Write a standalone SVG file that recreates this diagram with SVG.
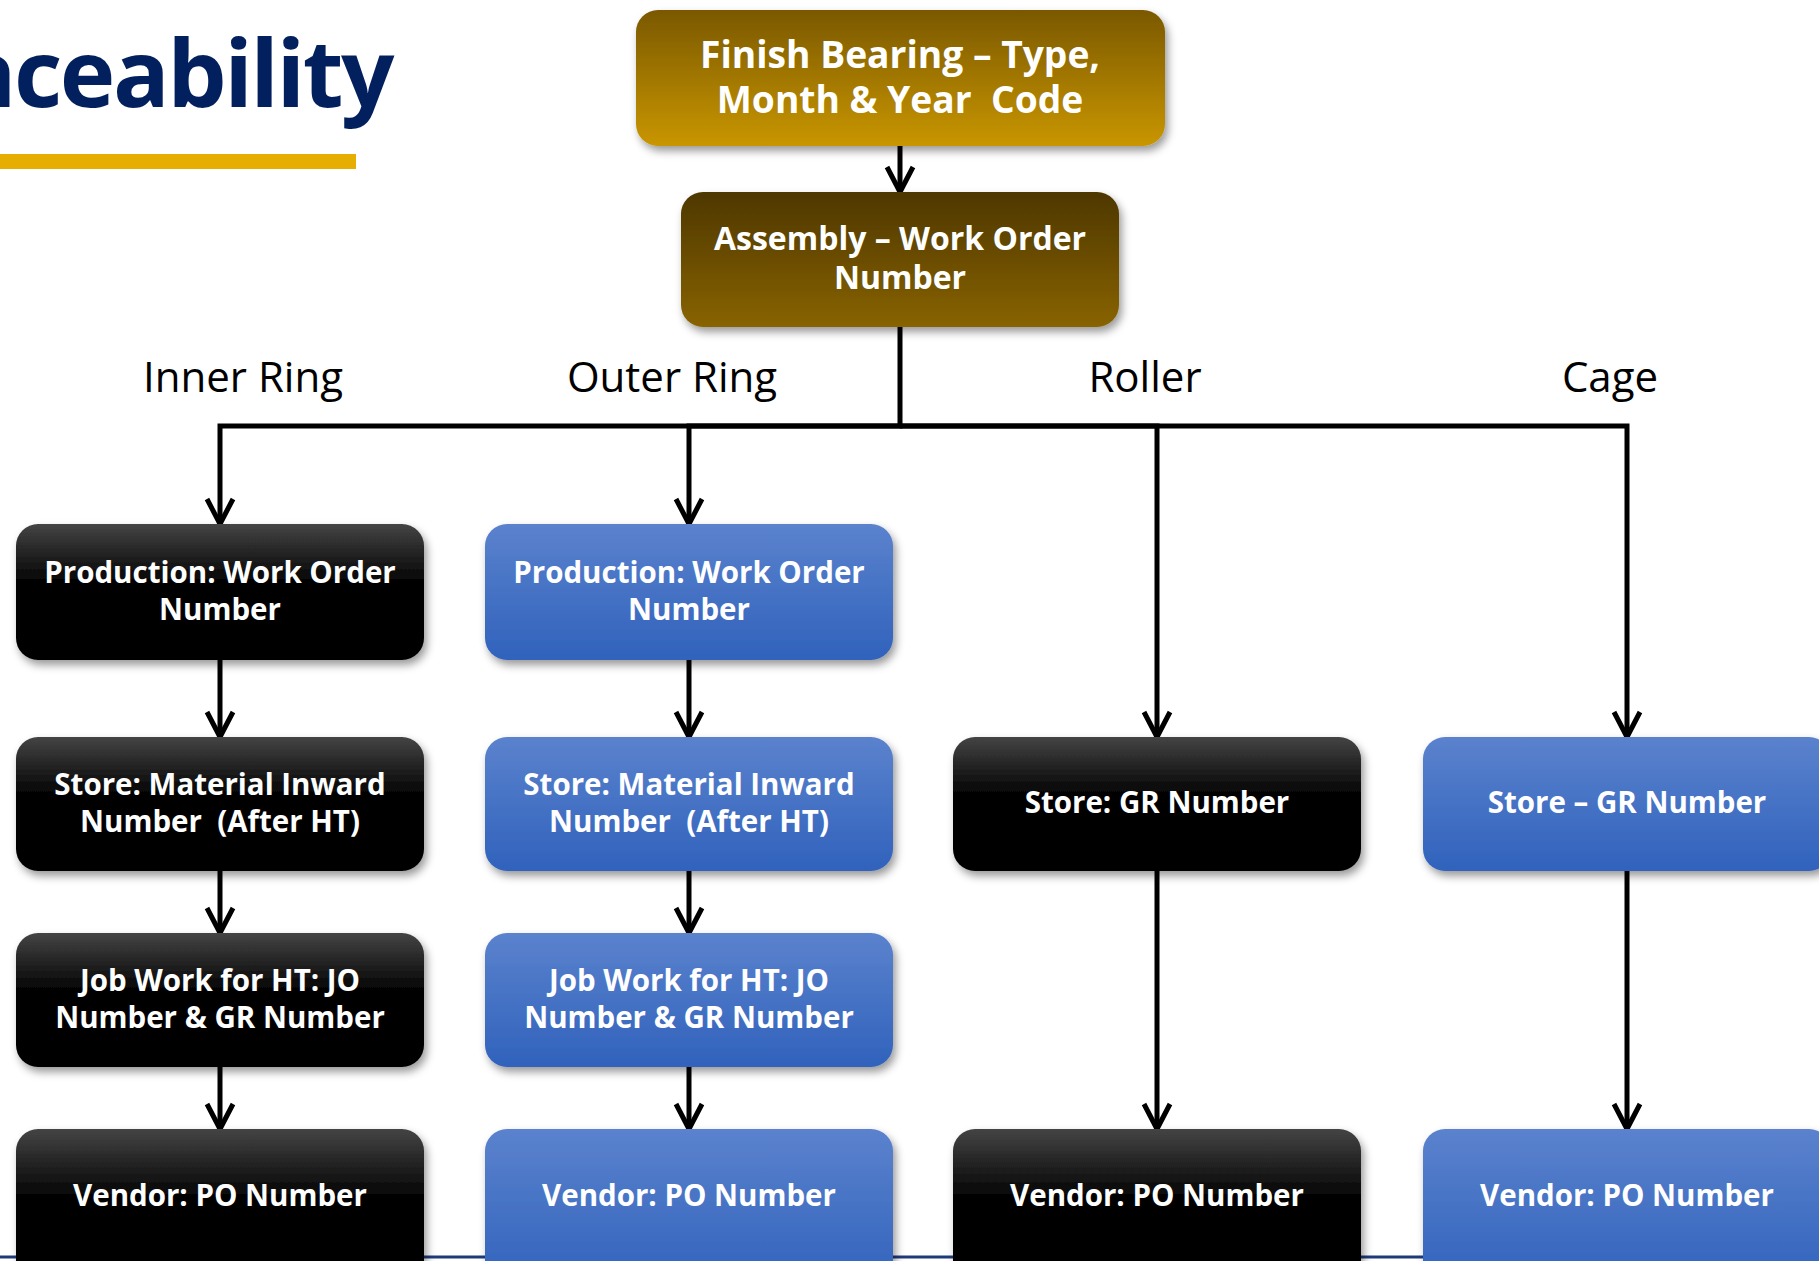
<svg xmlns="http://www.w3.org/2000/svg" width="1819" height="1261" viewBox="0 0 1819 1261">
<style>
.bx{font-family:"Open Sans","Noto Sans","Liberation Sans",sans-serif;font-weight:700;fill:#fff;text-anchor:middle;white-space:pre}
.f27{font-size:29.5px}
.lbl{font-family:"Open Sans","Noto Sans","Liberation Sans",sans-serif;font-size:42px;fill:#000;text-anchor:middle}
.cn{fill:none;stroke:#000;stroke-width:5;stroke-linejoin:miter}
</style>
<defs>
<linearGradient id="gBlk" x1="0" y1="0" x2="0" y2="1">
<stop offset="0" stop-color="#444"/><stop offset="0.45" stop-color="#000"/><stop offset="1" stop-color="#000"/>
</linearGradient>
<linearGradient id="gBlu" x1="0" y1="0" x2="0" y2="1">
<stop offset="0" stop-color="#5B82CD"/><stop offset="1" stop-color="#3062BC"/>
</linearGradient>
<linearGradient id="gGold" x1="0" y1="0" x2="0" y2="1">
<stop offset="0" stop-color="#7A5800"/><stop offset="1" stop-color="#C99600"/>
</linearGradient>
<linearGradient id="gBrn" x1="0" y1="0" x2="0" y2="1">
<stop offset="0" stop-color="#4E3700"/><stop offset="1" stop-color="#886300"/>
</linearGradient>
<filter id="sh" x="-10%" y="-10%" width="125%" height="130%">
<feDropShadow dx="3" dy="5" stdDeviation="4" flood-color="#000" flood-opacity="0.4"/>
</filter>
<marker id="arr" viewBox="-5 -5 40 40" refX="27" refY="15" markerWidth="40" markerHeight="40" markerUnits="userSpaceOnUse" orient="auto">
<path d="M2,2 L27,15 L2,28" fill="none" stroke="#000" stroke-width="5"/>
</marker>
</defs>
<rect width="1819" height="1261" fill="#fff"/>
<g id="title">
<text x="392" y="107" text-anchor="end" font-family="'Open Sans','Noto Sans','Liberation Sans',sans-serif" font-weight="700" font-size="94" letter-spacing="-2.5" fill="#03205E">Traceability</text>
<rect x="0" y="154" width="356" height="15" fill="#E5AE00"/>
</g>
<line x1="0" y1="1257" x2="1819" y2="1257" stroke="#1F3A7A" stroke-width="3"/>
<g id="labels">
<text class="lbl" x="243" y="392">Inner Ring</text>
<text class="lbl" x="672" y="392">Outer Ring</text>
<text class="lbl" x="1145" y="392">Roller</text>
<text class="lbl" x="1610" y="392">Cage</text>
</g>
<g id="connectors">
<path class="cn" d="M900,146 V192" marker-end="url(#arr)"/>
<path class="cn" d="M900,327 V426 H220 V524" marker-end="url(#arr)"/>
<path class="cn" d="M900,426 H689 V524" marker-end="url(#arr)"/>
<path class="cn" d="M900,426 H1157 V737" marker-end="url(#arr)"/>
<path class="cn" d="M900,426 H1627 V737" marker-end="url(#arr)"/>
<path class="cn" d="M220,660 V737" marker-end="url(#arr)"/>
<path class="cn" d="M220,871 V933" marker-end="url(#arr)"/>
<path class="cn" d="M220,1067 V1129" marker-end="url(#arr)"/>
<path class="cn" d="M689,660 V737" marker-end="url(#arr)"/>
<path class="cn" d="M689,871 V933" marker-end="url(#arr)"/>
<path class="cn" d="M689,1067 V1129" marker-end="url(#arr)"/>
<path class="cn" d="M1157,871 V1129" marker-end="url(#arr)"/>
<path class="cn" d="M1627,871 V1129" marker-end="url(#arr)"/>
</g>
<g id="n-finish">
<rect x="636" y="10" width="529" height="136" rx="22" fill="url(#gGold)" filter="url(#sh)"/>
<text class="bx" x="900" y="68" font-size="37.2">Finish Bearing – Type,</text>
<text class="bx" x="900" y="113" font-size="37.2">Month &amp; Year  Code</text>
</g>
<g id="n-assembly">
<rect x="681" y="192" width="438" height="135" rx="22" fill="url(#gBrn)" filter="url(#sh)"/>
<text class="bx" x="900" y="250" font-size="32">Assembly – Work Order</text>
<text class="bx" x="900" y="289" font-size="32">Number</text>
</g>
<g id="n-ir-prod">
<rect x="16" y="524" width="408" height="136" rx="22" fill="url(#gBlk)" filter="url(#sh)"/>
<text class="bx f27" x="220" y="583">Production: Work Order</text>
<text class="bx f27" x="220" y="620">Number</text>
</g>
<g id="n-or-prod">
<rect x="485" y="524" width="408" height="136" rx="22" fill="url(#gBlu)" filter="url(#sh)"/>
<text class="bx f27" x="689" y="583">Production: Work Order</text>
<text class="bx f27" x="689" y="620">Number</text>
</g>
<g id="n-ir-store">
<rect x="16" y="737" width="408" height="134" rx="22" fill="url(#gBlk)" filter="url(#sh)"/>
<text class="bx f27" x="220" y="795">Store: Material Inward</text>
<text class="bx f27" x="220" y="832">Number  (After HT)</text>
</g>
<g id="n-or-store">
<rect x="485" y="737" width="408" height="134" rx="22" fill="url(#gBlu)" filter="url(#sh)"/>
<text class="bx f27" x="689" y="795">Store: Material Inward</text>
<text class="bx f27" x="689" y="832">Number  (After HT)</text>
</g>
<g id="n-roller-store">
<rect x="953" y="737" width="408" height="134" rx="22" fill="url(#gBlk)" filter="url(#sh)"/>
<text class="bx f27" x="1157" y="813">Store: GR Number</text>
</g>
<g id="n-cage-store">
<rect x="1423" y="737" width="408" height="134" rx="22" fill="url(#gBlu)" filter="url(#sh)"/>
<text class="bx f27" x="1627" y="813">Store – GR Number</text>
</g>
<g id="n-ir-job">
<rect x="16" y="933" width="408" height="134" rx="22" fill="url(#gBlk)" filter="url(#sh)"/>
<text class="bx f27" x="220" y="991">Job Work for HT: JO</text>
<text class="bx f27" x="220" y="1028">Number &amp; GR Number</text>
</g>
<g id="n-or-job">
<rect x="485" y="933" width="408" height="134" rx="22" fill="url(#gBlu)" filter="url(#sh)"/>
<text class="bx f27" x="689" y="991">Job Work for HT: JO</text>
<text class="bx f27" x="689" y="1028">Number &amp; GR Number</text>
</g>
<g id="n-ir-vendor">
<rect x="16" y="1129" width="408" height="160" rx="22" fill="url(#gBlk)" filter="url(#sh)"/>
<text class="bx f27" x="220" y="1206">Vendor: PO Number</text>
</g>
<g id="n-or-vendor">
<rect x="485" y="1129" width="408" height="160" rx="22" fill="url(#gBlu)" filter="url(#sh)"/>
<text class="bx f27" x="689" y="1206">Vendor: PO Number</text>
</g>
<g id="n-roller-vendor">
<rect x="953" y="1129" width="408" height="160" rx="22" fill="url(#gBlk)" filter="url(#sh)"/>
<text class="bx f27" x="1157" y="1206">Vendor: PO Number</text>
</g>
<g id="n-cage-vendor">
<rect x="1423" y="1129" width="408" height="160" rx="22" fill="url(#gBlu)" filter="url(#sh)"/>
<text class="bx f27" x="1627" y="1206">Vendor: PO Number</text>
</g>
</svg>
